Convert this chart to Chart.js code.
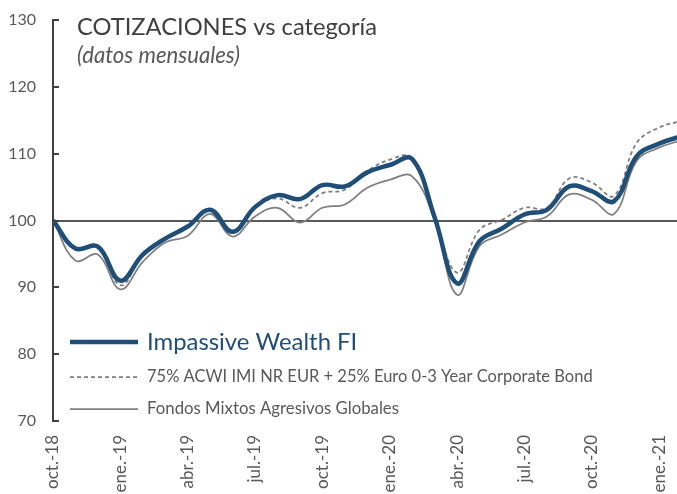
<!DOCTYPE html>
<html><head><meta charset="utf-8">
<script src="https://cdn.jsdelivr.net/npm/chart.js@4.4.0/dist/chart.umd.min.js"></script>
<style>html,body{margin:0;padding:0;background:#fff;}#wrap{width:677px;height:494px;position:relative;}</style>
</head><body><div id="wrap"><canvas id="c" width="677" height="494"></canvas></div>
<script>
const months = ['oct-18','nov-18','dic-18','ene-19','feb-19','mar-19','abr-19','may-19','jun-19','jul-19','ago-19','sep-19',
  'oct-19','nov-19','dic-19','ene-20','feb-20','mar-20','abr-20','may-20','jun-20','jul-20','ago-20','sep-20',
  'oct-20','nov-20','dic-20','ene-21','feb-21'];
const tickLabels = ['oct.-18','ene.-19','abr.-19','jul.-19','oct.-19','ene.-20','abr.-20','jul.-20','oct.-20','ene.-21'];
const tickMonths = [0,3,6,9,12,15,18,21,24,27];
const yTicks = [70,80,90,100,110,120,130];
const impassive = [100,95.8,96.1,91.0,94.9,97.3,99.1,101.6,98.3,102.0,103.8,103.2,105.3,105.1,107.2,108.3,109.2,100.5,90.6,96.9,98.8,100.9,101.6,105.1,104.4,102.9,109.6,111.5,112.6];
const benchmark = [100,95.9,96.2,90.3,94.8,97.3,99.0,101.7,98.2,102.0,103.3,101.9,104.1,104.6,107.4,109.1,109.4,100.6,92.2,98.6,100.1,101.9,101.9,106.3,105.7,103.7,111.6,113.9,114.9];
const category = [100,94.0,94.9,89.7,93.8,96.7,97.7,101.0,97.6,100.6,101.9,99.7,101.9,102.4,104.9,106.1,106.6,100.1,88.9,96.2,97.9,99.7,100.6,103.9,103.1,101.0,108.9,110.9,112.0];
const seriesNames = ['Impassive Wealth FI','75% ACWI IMI NR EUR + 25% Euro 0-3 Year Corporate Bond','Fondos Mixtos Agresivos Globales'];
const titleText = 'COTIZACIONES vs categoría';
const subtitleText = '(datos mensuales)';

const FAMILY = 'Lato, "Open Sans", sans-serif';
const BLUE = '#1F4E79', GRAY = '#7F7F7F', TXT = '#595959';
const toPts = arr => arr.map((v,i)=>({x:i,y:v}));

function fitFont(ctx, text, width, style){
  ctx.font = style + ' 100px ' + FAMILY;
  return Math.round(100*width/ctx.measureText(text).width*10)/10;
}

const overlay = {
  id:'overlay',
  afterDraw(chart){
    const ctx = chart.ctx, ys = chart.scales.y, ca = chart.chartArea;
    ctx.save();
    ctx.strokeStyle = '#404040'; ctx.lineWidth = 2;
    yTicks.forEach(v=>{const y = Math.round(ys.getPixelForValue(v)); ctx.beginPath(); ctx.moveTo(ca.left, y); ctx.lineTo(ca.left+6, y); ctx.stroke();});
    ctx.textBaseline = 'middle'; ctx.textAlign = 'left';
    let s = fitFont(ctx, titleText, 300, 'normal');
    ctx.font = 'normal ' + s + 'px ' + FAMILY; ctx.fillStyle = '#404040';
    ctx.fillText(titleText, 77, 27);
    s = fitFont(ctx, subtitleText, 163, 'italic');
    ctx.font = 'italic ' + s + 'px ' + FAMILY; ctx.fillStyle = TXT;
    ctx.fillText(subtitleText, 77, 56);
    const items = [
      {name:seriesNames[0], y:342, color:BLUE, w:4.5, dash:[], tw:210, tc:BLUE},
      {name:seriesNames[1], y:377, color:GRAY, w:1.75, dash:[4,3], tw:445, tc:TXT},
      {name:seriesNames[2], y:409, color:GRAY, w:1.75, dash:[], tw:253, tc:TXT}
    ];
    items.forEach(it=>{
      ctx.strokeStyle = it.color; ctx.lineWidth = it.w; ctx.setLineDash(it.dash);
      ctx.beginPath(); ctx.moveTo(70, it.y); ctx.lineTo(138, it.y); ctx.stroke();
      ctx.setLineDash([]);
      const fs = fitFont(ctx, it.name, it.tw, 'normal');
      ctx.font = 'normal ' + fs + 'px ' + FAMILY; ctx.fillStyle = it.tc;
      ctx.fillText(it.name, 147, it.y);
    });
    ctx.restore();
  }
};

new Chart(document.getElementById('c'), {
  type:'line',
  data:{
    labels: months,
    datasets:[
      {label:seriesNames[0], data:toPts(impassive), borderColor:BLUE, borderWidth:4.5, pointRadius:0, tension:0.4, fill:false},
      {label:seriesNames[1], data:toPts(benchmark), borderColor:GRAY, borderWidth:1.75, borderDash:[4,3], pointRadius:0, tension:0.4, fill:false},
      {label:seriesNames[2], data:toPts(category), borderColor:GRAY, borderWidth:1.75, pointRadius:0, tension:0.4, fill:false}
    ]
  },
  options:{
    responsive:false, animation:false, devicePixelRatio:1,
    layout:{padding:{top:20,right:0,bottom:0,left:0}},
    plugins:{legend:{display:false}, tooltip:{enabled:false}},
    scales:{
      x:{type:'linear', min:0, max:27.8,
        afterBuildTicks: sc => { sc.ticks = tickMonths.map(v=>({value:v})); },
        afterFit: sc => { sc.height = 73; sc.paddingLeft = 0; sc.paddingRight = 0; sc.paddingTop = 0; sc.paddingBottom = 0; },
        grid:{display:false}, border:{display:false},
        ticks:{autoSkip:false, maxRotation:90, minRotation:90, padding:6, color:TXT, font:{family:FAMILY, size:17},
          callback:(v)=>{const k = tickMonths.indexOf(v); return k>=0 ? tickLabels[k] : '';}}
      },
      y:{min:70, max:130,
        afterBuildTicks: sc => { sc.ticks = yTicks.map(v=>({value:v})); },
        afterFit: sc => { sc.width = 53; sc.paddingTop = 0; sc.paddingBottom = 0; sc.paddingLeft = 0; sc.paddingRight = 0; },
        grid:{drawTicks:false, color:c=> (c.tick && c.tick.value===100) ? '#595959' : 'rgba(0,0,0,0)', lineWidth:2},
        border:{display:true, color:'#404040', width:2},
        ticks:{padding:17, color:TXT, font:{family:FAMILY, size:16}}
      }
    }
  },
  plugins:[overlay]
});
</script>
</body></html>
